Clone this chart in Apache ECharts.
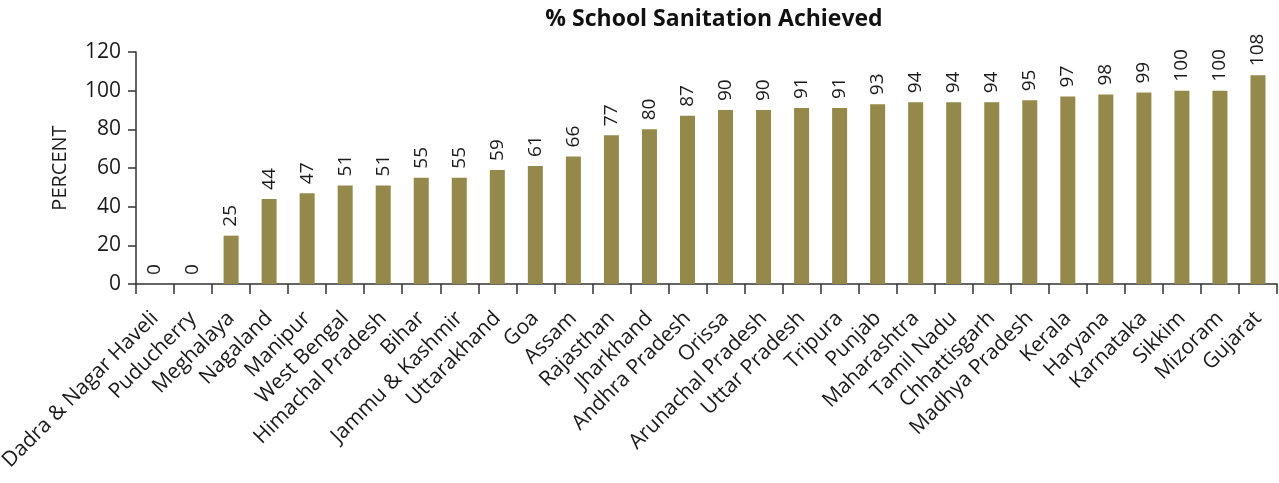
<!DOCTYPE html>
<html><head><meta charset="utf-8">
<script src="https://cdn.jsdelivr.net/npm/echarts@6/dist/echarts.min.js"></script>
<style>html,body{margin:0;padding:0;background:#fff}#c{width:1279px;height:483px}</style>
</head><body><div id="c"></div>
<script>
const categories = ["Dadra & Nagar Haveli","Puducherry","Meghalaya","Nagaland","Manipur","West Bengal","Himachal Pradesh","Bihar","Jammu & Kashmir","Uttarakhand","Goa","Assam","Rajasthan","Jharkhand","Andhra Pradesh","Orissa","Arunachal Pradesh","Uttar Pradesh","Tripura","Punjab","Maharashtra","Tamil Nadu","Chhattisgarh","Madhya Pradesh","Kerala","Haryana","Karnataka","Sikkim","Mizoram","Gujarat"];
const values = [0,0,25,44,47,51,51,55,55,59,61,66,77,80,87,90,90,91,91,93,94,94,94,95,97,98,99,100,100,108];
const yTicks = [0,20,40,60,80,100,120];

const chart = echarts.init(document.getElementById('c'));
const font = "'Open Sans', 'Noto Sans', sans-serif";
chart.setOption({
  animation: false,
  textStyle: {fontFamily: font},
  title: {text: '% School Sanitation Achieved', left: 709, textAlign: 'center', top: 3,
    textStyle: {fontFamily: font, fontWeight: 'bold', fontSize: 23, color: '#111'}},
  grid: {left: 136, right: 2, top: 52, bottom: 199, containLabel: false, outerBoundsMode: 'none'},
  xAxis: {type: 'category', data: categories,
    axisLine: {lineStyle: {color: '#333', width: 1.5}},
    axisTick: {show: true, length: 10, lineStyle: {color: '#333', width: 1.5}},
    axisLabel: {rotate: 45, interval: 0, fontSize: 21, color: '#1a1a1a', fontFamily: font, margin: 31}},
  yAxis: {type: 'value', min: yTicks[0], max: yTicks[yTicks.length-1], interval: 20,
    name: 'PERCENT', nameLocation: 'middle', nameGap: 66,
    nameTextStyle: {fontSize: 20, color: '#1a1a1a', fontFamily: font},
    axisLine: {show: true, lineStyle: {color: '#333', width: 1.5}},
    axisTick: {show: true, length: 8, lineStyle: {color: '#333', width: 1.5}},
    splitLine: {show: false},
    axisLabel: {fontSize: 21, color: '#1a1a1a', fontFamily: font, margin: 15}},
  series: [{type: 'bar', data: values, barWidth: 15,
    itemStyle: {color: '#94894b'},
    label: {show: true, position: 'top', rotate: 90, align: 'left', verticalAlign: 'middle',
      distance: 9, fontSize: 19, color: '#1a1a1a', fontFamily: font}}]
});
</script></body></html>
